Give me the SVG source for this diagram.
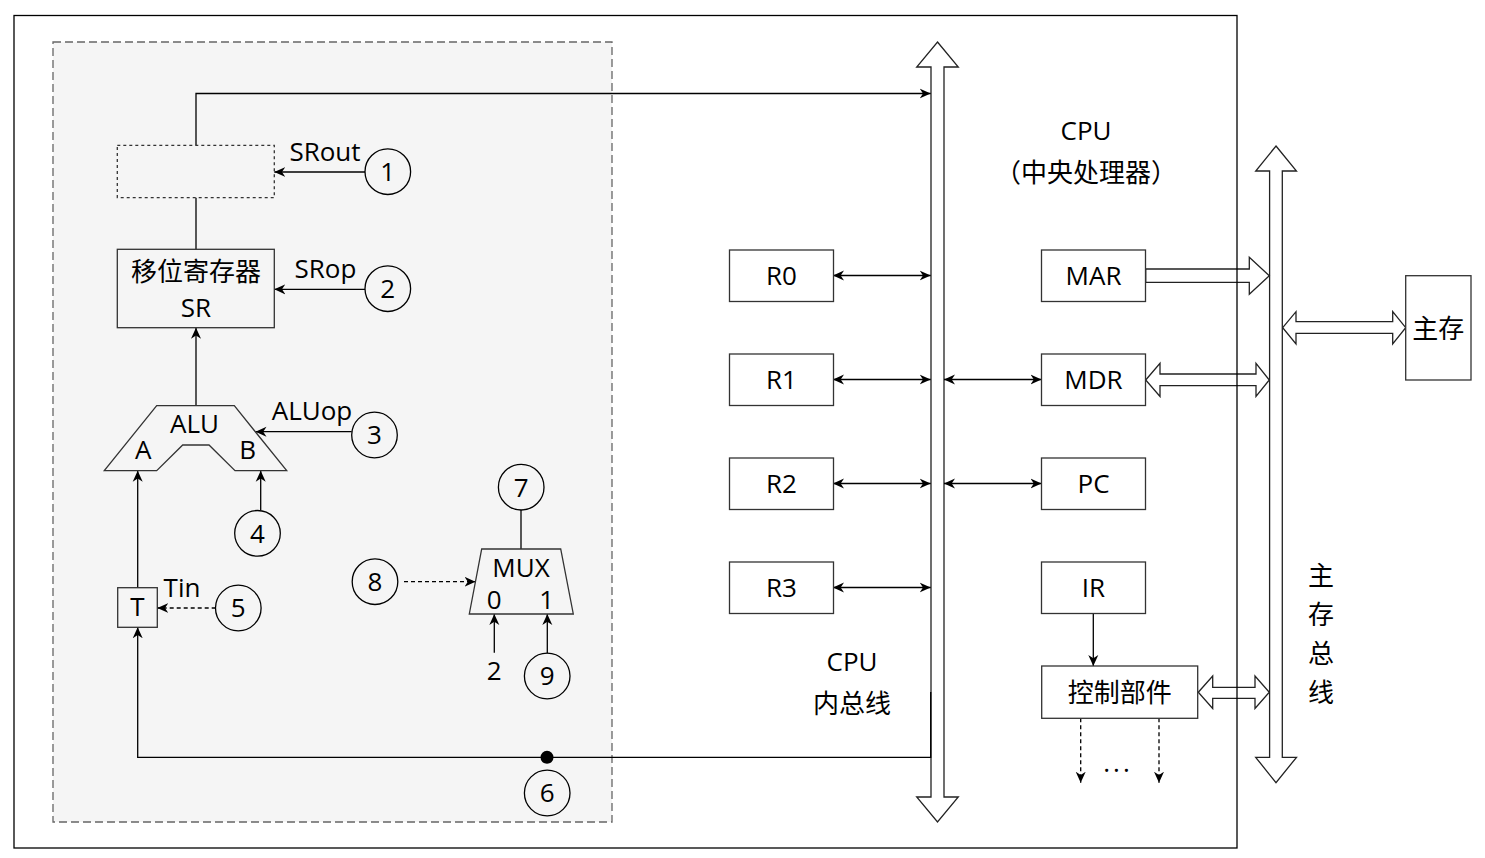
<svg xmlns="http://www.w3.org/2000/svg" width="1485" height="858" viewBox="0 0 1485 858">
<style>
text{font-family:"Open Sans","Noto Sans CJK SC",sans-serif;font-size:26px;fill:#000;text-anchor:middle}
.box{fill:#fff;stroke:#333;stroke-width:1.3}
.gbox{fill:none;stroke:#333;stroke-width:1.3}
.ln{fill:none;stroke:#000;stroke-width:1.3}
.dl{fill:none;stroke:#000;stroke-width:1.3;stroke-dasharray:4 3}
.fat{fill:#fff;stroke:#222;stroke-width:1.3;stroke-linejoin:miter}
.circ{fill:none;stroke:#000;stroke-width:1.3}
</style>
<defs>
<marker id="a" viewBox="0 0 11 11" refX="11" refY="5.5" markerWidth="11" markerHeight="11" markerUnits="userSpaceOnUse" orient="auto-start-reverse">
<path d="M0,0.5 L11,5.5 L0,10.5 L3.3,5.5 Z" fill="#000"/>
</marker>
</defs>
<rect x="0" y="0" width="1485" height="858" fill="#fff"/>
<g id="datapath-area">
<rect x="53" y="42" width="559" height="780" fill="#f5f5f5" stroke="#666" stroke-width="1.3" stroke-dasharray="8 4"/>
</g>
<g id="internal-bus">
<polygon class="fat" points="937.5,42 958.3,67 944,67 944,797 958.3,797 937.5,822 916.7,797 931,797 931,67 916.7,67"/>
</g>
<g id="memory-bus">
<polygon class="fat" points="1276,146 1296.5,171 1282.3,171 1282.3,757.3 1296.5,757.3 1276,782.7 1255.7,757.3 1269.6,757.3 1269.6,171 1255.7,171"/>
</g>
<g id="connectors">
<polygon class="fat" points="1145.7,269 1249.3,269 1249.3,257.3 1269.3,275.7 1249.3,294.3 1249.3,282.3 1145.7,282.3"/>
<polygon class="fat" points="1145.7,380 1160,363.3 1160,374 1256,374 1256,363.3 1269.3,380 1256,396.5 1256,385.7 1160,385.7 1160,396.5"/>
<polygon class="fat" points="1198.3,692.3 1212.7,676 1212.7,687.3 1255,687.3 1255,676 1269.3,692.3 1255,708.5 1255,698.3 1212.7,698.3 1212.7,708.5"/>
<polygon class="fat" points="1282.7,327.7 1296,311.7 1296,321.7 1392.7,321.7 1392.7,311.7 1405.7,327.7 1392.7,344 1392.7,333.3 1296,333.3 1296,344"/>
<path class="ln" d="M196,145.3 V93.5 H930.7" marker-end="url(#a)"/>
<path class="ln" d="M196,197.7 V249.3"/>
<path class="ln" d="M196,405.7 V327.7" marker-end="url(#a)"/>
<path class="ln" d="M365,172 H274.3" marker-end="url(#a)"/>
<path class="ln" d="M365,289.3 H274.3" marker-end="url(#a)"/>
<path class="ln" d="M351.7,431.7 H255.5" marker-end="url(#a)"/>
<path class="ln" d="M260.7,510 V470.7" marker-end="url(#a)"/>
<path class="ln" d="M137.7,587.7 V470.7" marker-end="url(#a)"/>
<path class="dl" d="M215.7,608 H157.3" marker-end="url(#a)"/>
<path class="ln" d="M930.7,692 V757.3 H137.7 V627.3" marker-end="url(#a)"/>
<circle cx="547" cy="757.3" r="6.5" fill="#000"/>
<path class="dl" d="M404,581.7 H475.5" marker-end="url(#a)"/>
<path class="ln" d="M521,510 V549"/>
<path class="ln" d="M494.3,652.7 V614" marker-end="url(#a)"/>
<path class="ln" d="M547.3,653.3 V614" marker-end="url(#a)"/>
<path class="ln" d="M833,275.5 H930.7" marker-start="url(#a)" marker-end="url(#a)"/>
<path class="ln" d="M833,379.5 H930.7" marker-start="url(#a)" marker-end="url(#a)"/>
<path class="ln" d="M833,483.5 H930.7" marker-start="url(#a)" marker-end="url(#a)"/>
<path class="ln" d="M833,587.5 H930.7" marker-start="url(#a)" marker-end="url(#a)"/>
<path class="ln" d="M944,379.5 H1041.5" marker-start="url(#a)" marker-end="url(#a)"/>
<path class="ln" d="M944,483.5 H1041.5" marker-start="url(#a)" marker-end="url(#a)"/>
<path class="ln" d="M1093.3,614 V666" marker-end="url(#a)"/>
<path class="dl" d="M1080.7,718.3 V782.7" marker-end="url(#a)"/>
<path class="dl" d="M1159,718.3 V782.7" marker-end="url(#a)"/>
</g>
<g id="srout-gate">
<rect x="117.3" y="145.3" width="157" height="52.4" fill="none" stroke="#333" stroke-width="1.3" stroke-dasharray="3 3"/>
</g>
<g id="sr">
<rect class="gbox" x="117.3" y="249.3" width="157" height="78.4"/>
<text x="196" y="281">移位寄存器</text>
<text x="196" y="317">SR</text>
</g>
<g id="alu">
<polygon class="gbox" points="156.7,405.7 234.3,405.7 286.7,470.7 235,470.7 209,445 182.7,445 156.7,470.7 104.3,470.7"/>
<text x="194.5" y="433.3">ALU</text>
<text x="143.3" y="459.3">A</text>
<text x="247.7" y="459.3">B</text>
</g>
<g id="t-reg">
<rect class="gbox" x="117.7" y="587.7" width="39.6" height="39.6"/>
<text x="137.5" y="615.5">T</text>
</g>
<g id="mux">
<polygon class="gbox" points="481.7,549 560.7,549 573.3,614 469.3,614"/>
<text x="521" y="576.7">MUX</text>
<text x="494.3" y="609.3">0</text>
<text x="546.7" y="609.3">1</text>
</g>
<g id="labels-left">
<text x="325" y="160.7">SRout</text>
<text x="325.5" y="277.7">SRop</text>
<text x="312" y="419.5">ALUop</text>
<text x="182" y="596.7">Tin</text>
<text x="494.3" y="680">2</text>
</g>
<g id="c1"><circle class="circ" cx="387.8" cy="171.7" r="22.8"/><text x="387.8" y="181">1</text></g>
<g id="c2"><circle class="circ" cx="387.8" cy="288.7" r="22.8"/><text x="387.8" y="298">2</text></g>
<g id="c3"><circle class="circ" cx="374.5" cy="435" r="22.8"/><text x="374.5" y="444.3">3</text></g>
<g id="c4"><circle class="circ" cx="257.5" cy="533.3" r="22.8"/><text x="257.5" y="542.6">4</text></g>
<g id="c5"><circle class="circ" cx="238.3" cy="608" r="22.8"/><text x="238.3" y="617.3">5</text></g>
<g id="c6"><circle class="circ" cx="547.2" cy="793" r="22.8"/><text x="547.2" y="802.3">6</text></g>
<g id="c7"><circle class="circ" cx="521.2" cy="487.2" r="22.8"/><text x="521.2" y="496.5">7</text></g>
<g id="c8"><circle class="circ" cx="375" cy="581.7" r="22.8"/><text x="375" y="591">8</text></g>
<g id="c9"><circle class="circ" cx="547.2" cy="676" r="22.8"/><text x="547.2" y="685.3">9</text></g>
<g id="r0"><rect class="box" x="729.5" y="250" width="104" height="51.5"/><text x="781.5" y="285">R0</text></g>
<g id="r1"><rect class="box" x="729.5" y="354" width="104" height="51.5"/><text x="781.5" y="389">R1</text></g>
<g id="r2"><rect class="box" x="729.5" y="458" width="104" height="51.5"/><text x="781.5" y="493">R2</text></g>
<g id="r3"><rect class="box" x="729.5" y="562" width="104" height="51.5"/><text x="781.5" y="597">R3</text></g>
<g id="mar"><rect class="box" x="1041.5" y="250" width="104" height="51.5"/><text x="1093.5" y="285">MAR</text></g>
<g id="mdr"><rect class="box" x="1041.5" y="354" width="104" height="51.5"/><text x="1093.5" y="389">MDR</text></g>
<g id="pc"><rect class="box" x="1041.5" y="458" width="104" height="51.5"/><text x="1093.5" y="493">PC</text></g>
<g id="ir"><rect class="box" x="1041.5" y="562" width="104" height="51.5"/><text x="1093.5" y="597">IR</text></g>
<g id="control"><rect class="box" x="1041.7" y="666" width="156" height="52.3"/><text x="1119.7" y="702">控制部件</text>
<text x="1118" y="772" style="letter-spacing:3px">...</text></g>
<g id="memory"><rect class="box" x="1405.7" y="275.7" width="65.3" height="104.3"/><text x="1438.3" y="338">主存</text></g>
<g id="cpu-label">
<text x="1086" y="140">CPU</text>
<text x="1086" y="182">（中央处理器）</text>
</g>
<g id="bus-labels">
<text x="852" y="671">CPU</text>
<text x="852" y="713">内总线</text>
<text x="1321" y="585">主</text>
<text x="1321" y="624">存</text>
<text x="1321" y="663">总</text>
<text x="1321" y="702">线</text>
</g>
<g id="cpu-frame">
<rect x="14" y="15.5" width="1223" height="832.5" fill="none" stroke="#000" stroke-width="1.3"/>
</g>
</svg>
